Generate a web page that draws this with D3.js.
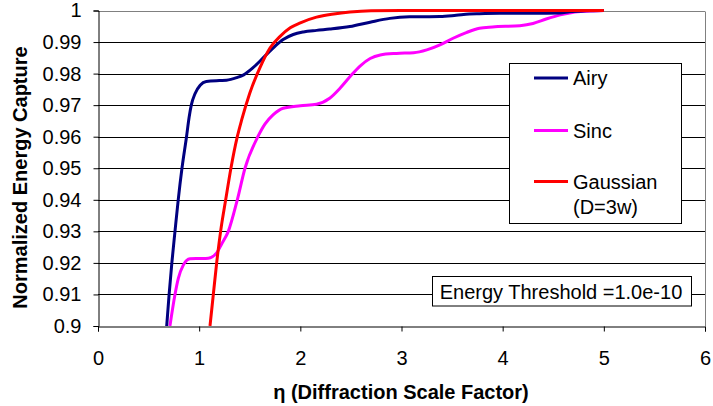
<!DOCTYPE html>
<html><head><meta charset="utf-8">
<script src="https://cdn.jsdelivr.net/npm/d3@7"></script>
<style>body{margin:0;background:#fff}svg{display:block}text{font-family:"Liberation Sans",Arial,sans-serif}</style>
</head><body><svg id="c" width="713" height="406"></svg>
<script>
const yTicks = [0.9,0.91,0.92,0.93,0.94,0.95,0.96,0.97,0.98,0.99,1];
const xTicks = [0,1,2,3,4,5,6];
const seriesNames = ["Airy","Sinc","Gaussian"];
const seriesColors = ["#000080","#FF00FF","#FF0000"];
const airyX = [0.679,0.703,0.730,0.761,0.793,0.830,0.875,0.900,0.922,0.960,1.010,1.07,1.2,1.27,1.37,1.44,1.53,1.63,1.73,1.83,1.93,2.03,2.16,2.29,2.49,2.69,2.885,3.08,3.38,3.54,3.67,3.77,3.97,4.3,4.57,4.66,4.83,5.0];
const airyY = [0.9,0.91,0.92,0.93,0.94,0.95,0.96,0.966,0.97,0.9737,0.9763,0.9775,0.9778,0.9779,0.9787,0.9796,0.9818,0.9849,0.9881,0.9908,0.9924,0.9932,0.9937,0.9941,0.9949,0.9963,0.9975,0.998,0.9981,0.9985,0.9989,0.999,0.9991,0.9991,0.9992,0.9996,0.9999,1.0];
const sincX = [0.711,0.761,0.794,0.843,0.909,1.0,1.09,1.173,1.222,1.288,1.377,1.453,1.58,1.65,1.73,1.83,2.0,2.16,2.29,2.39,2.49,2.59,2.69,2.79,2.95,3.12,3.25,3.38,3.51,3.64,3.77,3.9,4.17,4.3,4.43,4.57,4.69,4.83,5.0];
const sincY = [0.9,0.91,0.9151,0.9193,0.9213,0.9214,0.9215,0.9232,0.926,0.93,0.94,0.95,0.96,0.964,0.9669,0.969,0.9698,0.9703,0.9722,0.9753,0.979,0.9824,0.9848,0.9859,0.9864,0.9866,0.9875,0.9891,0.9912,0.993,0.9944,0.9948,0.9952,0.9959,0.9973,0.9986,0.9994,0.9998,1.0];
const gaussX = [1.107,1.14,1.173,1.212,1.262,1.314,1.377,1.42,1.5,1.6,1.7,1.8,1.9,2.0,2.16,2.33,2.49,2.7,3.0,4.0,5.0];
const gaussY = [0.9,0.91,0.92,0.93,0.94,0.95,0.96,0.9653,0.9738,0.9818,0.9881,0.9918,0.9945,0.9961,0.9979,0.9989,0.9995,0.9999,1.0,1.0,1.0];

const svg = d3.select("#c");
const L=98, R=705, T=10.5, B=326;
const x = d3.scaleLinear().domain([0,6]).range([L,R]);
const y = d3.scaleLinear().domain([0.9,1]).range([B,T]);
const FONT = "'Liberation Sans',Arial,sans-serif";

svg.append("defs").append("clipPath").attr("id","clip").append("rect")
  .attr("x",L).attr("y",T-3).attr("width",R-L+2).attr("height",B-T+3);

// gridlines
svg.append("g").selectAll("line").data(yTicks.slice(1)).join("line")
  .attr("x1",L).attr("x2",R).attr("y1",d=>Math.round(y(d))+0.5).attr("y2",d=>Math.round(y(d))+0.5)
  .attr("stroke",d=>d===1?"#808080":"#000").attr("stroke-width",1);
// right border
svg.append("line").attr("x1",R+0.5).attr("x2",R+0.5).attr("y1",Math.round(T)+0.5).attr("y2",B).attr("stroke","#808080");

// axes
const yAxis = d3.axisLeft(y).tickValues(yTicks).tickFormat(d=>String(+d.toFixed(2))).tickSize(5).tickPadding(12);
const gy = svg.append("g").attr("transform",`translate(${L+0.5},0)`).call(yAxis);
const xAxis = d3.axisBottom(x).tickValues(xTicks).tickFormat(d3.format("d")).tickSize(5).tickPadding(19);
const gx = svg.append("g").attr("transform",`translate(0,${Math.round(B)+0.5})`).call(xAxis);
[gx,gy].forEach(g=>{
  g.select(".domain").attr("stroke","#000");
  g.selectAll(".tick line").attr("stroke","#000");
  g.selectAll("text").attr("font-size",20).attr("fill","#000").attr("font-family",FONT);
});

// lines
const line = d3.line().x(d=>x(d[0])).y(d=>y(d[1])).curve(d3.curveMonotoneX);
const data = [d3.zip(airyX,airyY), d3.zip(sincX,sincY), d3.zip(gaussX,gaussY)];
const order = [1,0,2];
svg.append("g").attr("clip-path","url(#clip)").selectAll("path").data(order).join("path")
  .attr("d",i=>line(data[i])).attr("fill","none").attr("stroke",i=>seriesColors[i])
  .attr("stroke-width",3).attr("stroke-linejoin","round");

// legend
const lg = svg.append("g");
lg.append("rect").attr("x",509.5).attr("y",63.5).attr("width",172).attr("height",160)
  .attr("fill","#fff").attr("stroke","#000");
const legY = [78,130.5,181.5];
seriesNames.forEach((n,i)=>{
  lg.append("line").attr("x1",534).attr("x2",568).attr("y1",legY[i]).attr("y2",legY[i])
    .attr("stroke",seriesColors[i]).attr("stroke-width",3);
  lg.append("text").attr("x",573).attr("y",legY[i]).attr("dy","0.35em").attr("font-size",20).text(n);
});
lg.append("text").attr("x",573).attr("y",207).attr("dy","0.35em").attr("font-size",20).text("(D=3w)");

// threshold box
svg.append("rect").attr("x",432.5).attr("y",276.5).attr("width",259).attr("height",29.5)
  .attr("fill","#fff").attr("stroke","#000");
svg.append("text").attr("x",561).attr("y",291.5).attr("dy","0.35em").attr("text-anchor","middle")
  .attr("font-size",20).text("Energy Threshold =1.0e-10");

// axis titles
svg.append("text").attr("x",401).attr("y",399).attr("text-anchor","middle").attr("font-size",20)
  .attr("font-weight","bold").text("η (Diffraction Scale Factor)");
svg.append("text").attr("transform","translate(27,177.5) rotate(-90)").attr("text-anchor","middle")
  .attr("font-size",20).attr("font-weight","bold").text("Normalized Energy Capture");
</script></body></html>
